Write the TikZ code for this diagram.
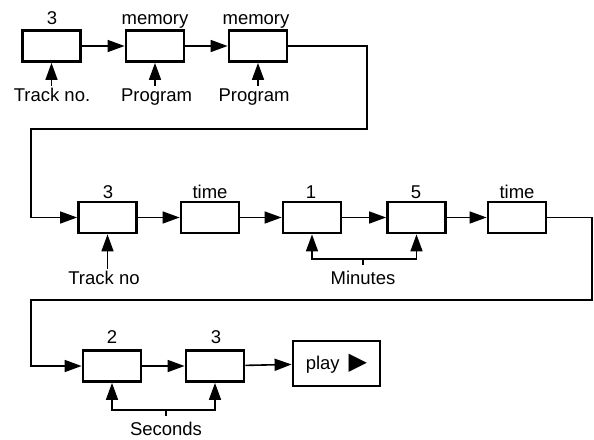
\documentclass[tikz,border=0pt]{standalone}
\usepackage{fontspec}
\setmainfont{Liberation Sans}
\newfontfamily\symfont{DejaVu Sans}
\usepackage{tikz}
\usetikzlibrary{arrows.meta,positioning}
\tikzset{%
  key box/.style={%
    draw,
    line width=2.8pt,
    minimum width=58pt,
    minimum height=31pt,
    inner sep=0pt
  },
  key label/.style={%
    inner sep=0pt
  },
  flow/.style={%
    line width=1.6pt,
    -{Triangle[length=17pt,width=12pt]}
  },
  wire/.style={%
    line width=1.6pt
  }
}

\begin{document}
\begin{tikzpicture}[x=1pt,y=-1pt,font=\fontsize{18.5}{21.6}\selectfont]
  \useasboundingbox (0,0) rectangle (594,439);
  % row one
  \node [key box] (k1) at (51.5, 46) {};
  \node [key box] (k2) at (155, 46) {};
  \node [key box] (k3) at (258, 46) {};
  \node [key label] (t1) at (52, 20.2) {\strut 3};
  \node [key label] (t2) at (155, 20.2) {\strut memory};
  \node [key label] (t3) at (256, 20.2) {\strut memory};
  \node [key label] (b1) at (52, 96.7) {\strut Track no.};
  \node [key label] (b2) at (156.5, 96.7) {\strut Program};
  \node [key label] (b3) at (254, 96.7) {\strut Program};
  \draw [flow] (k1) -- (k2);
  \draw [flow] (k2) -- (k3);
  \draw [flow] (k1.south |- b1.north) -- (k1.south);
  \draw [flow] (k2.south |- b2.north) -- (k2.south);
  \draw [flow] (k3.south |- b3.north) -- (k3.south);
  % row two
  \node [key box] (k4) at (107.5, 217.5) {};
  \node [key box] (k5) at (210, 217.5) {};
  \node [key box] (k6) at (312, 217.5) {};
  \node [key box] (k7) at (416.5, 217.5) {};
  \node [key box] (k8) at (517, 217.5) {};
  \node [key label] (t4) at (108, 193.7) {\strut 3};
  \node [key label] (t5) at (210, 193.7) {\strut time};
  \node [key label] (t6) at (311, 193.7) {\strut 1};
  \node [key label] (t7) at (416, 193.7) {\strut 5};
  \node [key label] (t8) at (517, 193.7) {\strut time};
  \node [key label] (b4) at (104, 279.7) {\strut Track no};
  \node [key label] (minutes) at (363, 279.7) {\strut Minutes};
  \coordinate (mb) at (363, 259);
  \draw [flow] (k4) -- (k5);
  \draw [flow] (k5) -- (k6);
  \draw [flow] (k6) -- (k7);
  \draw [flow] (k7) -- (k8);
  \draw [flow] (k4.south |- b4.north) -- (k4.south);
  \draw [flow] (mb) -| (k6.south);
  \draw [flow] (mb) -| (k7.south);
  \draw [wire] (mb) -- ++(0, 6);
  % row three
  \node [key box] (k9) at (112, 366) {};
  \node [key box] (k10) at (215, 366) {};
  \node [key box, minimum width=87pt, minimum height=45pt] (play) at (336.5, 363.5)
    {play\hspace{9pt}{\symfont\fontsize{24}{24}\selectfont ▶}};
  \node [key label] (t9) at (112, 338.7) {\strut 2};
  \node [key label] (t10) at (216, 338.7) {\strut 3};
  \node [key label] (seconds) at (166, 430.7) {\strut Seconds};
  \coordinate (sb) at (166, 410);
  \draw [flow] (k9) -- (k10);
  \draw [flow] (k10) -- (play);
  \draw [flow] (sb) -| (k9.south);
  \draw [flow] (sb) -| (k10.south);
  \draw [wire] (sb) -- ++(0, 6);
  % return lines
  \coordinate (r1) at (367, 129);
  \coordinate (l1) at (31, 129);
  \coordinate (r2) at (592, 300);
  \coordinate (l2) at (31, 300);
  \draw [flow] (k3.east) -| (r1) -- (l1) |- (k4.west);
  \draw [flow] (k8.east) -| (r2) -- (l2) |- (k9.west);
\end{tikzpicture}
\end{document}
